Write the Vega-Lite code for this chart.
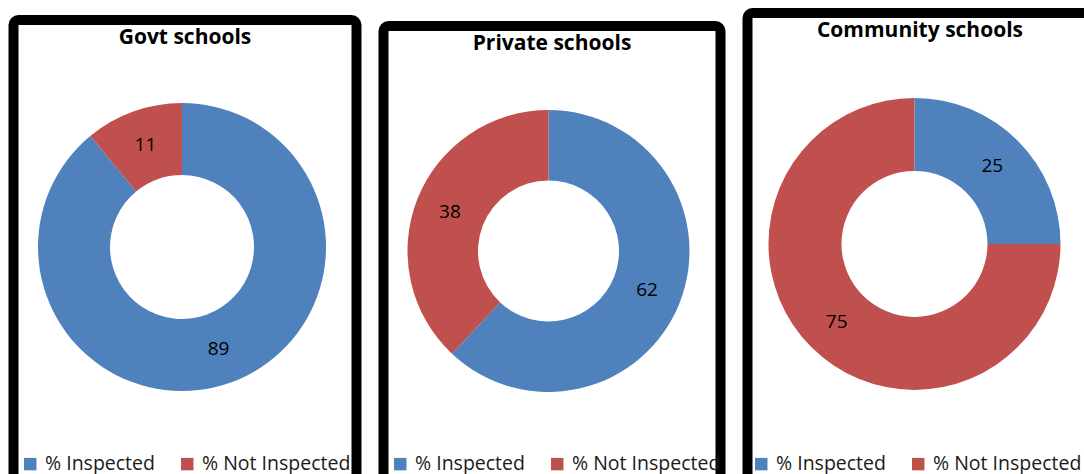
{
  "$schema": "https://vega.github.io/schema/vega-lite/v6.json",
  "background": "white",
  "padding": {"left": 8.5, "top": 8, "right": 0, "bottom": 0},
  "data": {"values": [
    {"school": "Govt schools", "status": "% Inspected", "pct": 89},
    {"school": "Govt schools", "status": "% Not Inspected", "pct": 11},
    {"school": "Private schools", "status": "% Inspected", "pct": 62},
    {"school": "Private schools", "status": "% Not Inspected", "pct": 38},
    {"school": "Community schools", "status": "% Inspected", "pct": 25},
    {"school": "Community schools", "status": "% Not Inspected", "pct": 75}
  ]},
  "spacing": 17,
  "center": true,
  "resolve": {"legend": {"color": "independent"}, "scale": {"color": "independent"}},
  "hconcat": [
    {
      "title": {"text": "Govt schools", "offset": -28},
      "width": 343,
      "height": 466,
      "transform": [{"filter": "datum.school === 'Govt schools'"}],
      "encoding": {
        "theta": {"field": "pct", "type": "quantitative", "stack": true},
        "order": {"field": "status", "sort": "ascending"},
        "x": {"datum": 0, "type": "quantitative", "scale": {"domain": [-0.4913, 0.5087], "nice": false, "zero": false}, "axis": null},
        "y": {"datum": 0, "type": "quantitative", "scale": {"domain": [-0.5129, 0.4871], "nice": false, "zero": false}, "axis": null}
      },
      "layer": [
        {
          "mark": {"type": "arc", "radius": 144, "radius2": 72},
          "encoding": {
            "color": {"field": "status", "type": "nominal", "scale": {"domain": ["% Inspected", "% Not Inspected"], "range": ["#4F81BD", "#C0504D"]},
              "legend": {"orient": "none", "legendX": 7, "legendY": 434}}
          }
        },
        {
          "mark": {"type": "text", "radius": 108, "fontSize": 19, "font": "Open Sans", "fill": "#000000"},
          "encoding": {"text": {"field": "pct", "type": "quantitative"}}
        }
      ]
    },
    {
      "title": {"text": "Private schools", "offset": -28},
      "width": 337,
      "height": 454,
      "transform": [{"filter": "datum.school === 'Private schools'"}],
      "encoding": {
        "theta": {"field": "pct", "type": "quantitative", "stack": true},
        "order": {"field": "status", "sort": "ascending"},
        "x": {"datum": 0, "type": "quantitative", "scale": {"domain": [-0.4896, 0.5104], "nice": false, "zero": false}, "axis": null},
        "y": {"datum": 0, "type": "quantitative", "scale": {"domain": [-0.5044, 0.4956], "nice": false, "zero": false}, "axis": null}
      },
      "layer": [
        {
          "mark": {"type": "arc", "radius": 141, "radius2": 70.5},
          "encoding": {
            "color": {"field": "status", "type": "nominal", "scale": {"domain": ["% Inspected", "% Not Inspected"], "range": ["#4F81BD", "#C0504D"]},
              "legend": {"orient": "none", "legendX": 7, "legendY": 428}}
          }
        },
        {
          "mark": {"type": "text", "radius": 106, "fontSize": 19, "font": "Open Sans", "fill": "#000000"},
          "encoding": {"text": {"field": "pct", "type": "quantitative"}}
        }
      ]
    },
    {
      "title": {"text": "Community schools", "offset": -28},
      "width": 345,
      "height": 480,
      "transform": [{"filter": "datum.school === 'Community schools'"}],
      "encoding": {
        "theta": {"field": "pct", "type": "quantitative", "stack": true},
        "order": {"field": "status", "sort": "ascending"},
        "x": {"datum": 0, "type": "quantitative", "scale": {"domain": [-0.484, 0.516], "nice": false, "zero": false}, "axis": null},
        "y": {"datum": 0, "type": "quantitative", "scale": {"domain": [-0.519, 0.481], "nice": false, "zero": false}, "axis": null}
      },
      "layer": [
        {
          "mark": {"type": "arc", "radius": 146, "radius2": 73},
          "encoding": {
            "color": {"field": "status", "type": "nominal", "scale": {"domain": ["% Inspected", "% Not Inspected"], "range": ["#4F81BD", "#C0504D"]},
              "legend": {"orient": "none", "legendX": 4, "legendY": 441}}
          }
        },
        {
          "mark": {"type": "text", "radius": 110, "fontSize": 19, "font": "Open Sans", "fill": "#000000"},
          "encoding": {"text": {"field": "pct", "type": "quantitative"}}
        }
      ]
    }
  ],
  "config": {
    "view": {"stroke": "#000000", "strokeWidth": 10, "cornerRadius": 5},
    "title": {"font": "Open Sans", "fontSize": 21, "fontWeight": "bold", "color": "#000000", "anchor": "middle"},
    "legend": {
      "title": null,
      "direction": "horizontal",
      "columns": 2,
      "symbolType": "square",
      "symbolSize": 155,
      "symbolStrokeWidth": 0,
      "labelFont": "Open Sans",
      "labelFontSize": 19.5,
      "labelColor": "#1a1a1a",
      "labelOffset": 5,
      "columnPadding": 22,
      "padding": 0,
      "labelLimit": 300
    }
  }
}
